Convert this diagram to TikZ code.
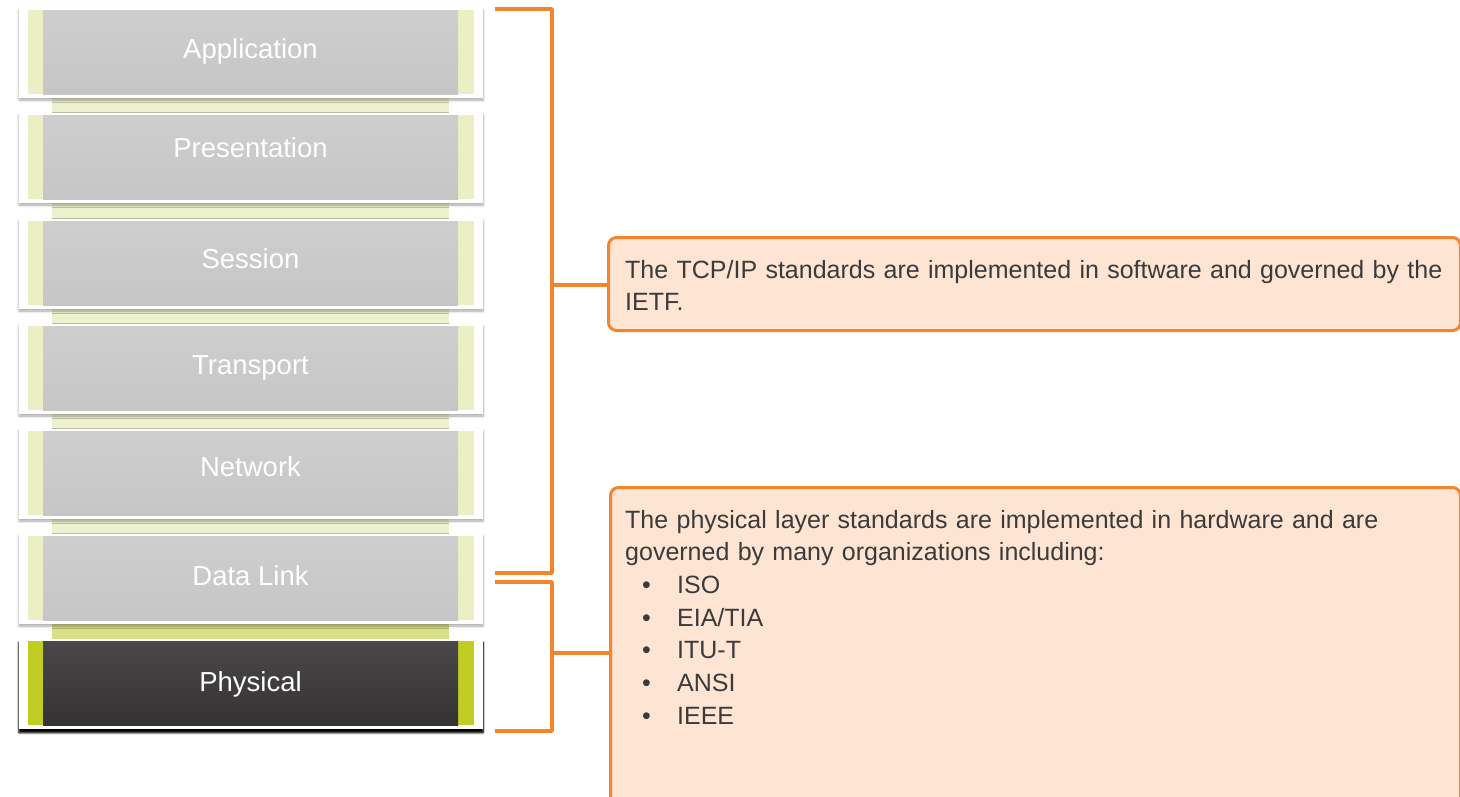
\documentclass[tikz,border=0pt]{standalone}
\usepackage{fontspec}
\setmainfont{Liberation Sans}
\usetikzlibrary{shadows.blur}
\definecolor{orng}{HTML}{F5852D}
\definecolor{peach}{HTML}{FDE4D3}
\definecolor{lgrayT}{HTML}{CECECE}
\definecolor{lgrayB}{HTML}{C6C6C6}
\definecolor{dgrayT}{HTML}{4A4748}
\definecolor{dgrayB}{HTML}{353233}
\definecolor{lstrip}{HTML}{ECEFC4}
\definecolor{pstrip}{HTML}{C2CD24}
\definecolor{connc}{HTML}{EEF1CD}
\definecolor{pconnc}{HTML}{D9DF86}
\definecolor{txt}{HTML}{3B3B3B}
\begin{document}
\begin{tikzpicture}[x=1pt,y=-1pt,
  framebox/.style={anchor=north west, fill=white, minimum width=464pt, minimum height=90pt, inner sep=0pt, outer sep=0pt,
    blur shadow={shadow xshift=0pt, shadow yshift=-2pt, shadow blur radius=2.5pt, shadow opacity=35}},
  pframebox/.style={framebox, blur shadow={shadow xshift=0pt, shadow yshift=-3.5pt, shadow blur radius=2pt, shadow opacity=90}},
  graylayer/.style={anchor=north west, minimum width=446pt, minimum height=84pt, inner sep=0pt, outer sep=0pt, fill=lstrip,
    path picture={\shade[top color=lgrayT, bottom color=lgrayB] ([xshift=15pt]path picture bounding box.north west) rectangle ([xshift=-16pt]path picture bounding box.south east);}},
  darklayer/.style={anchor=north west, minimum width=446pt, minimum height=84pt, inner sep=0pt, outer sep=0pt, fill=pstrip,
    path picture={\shade[top color=dgrayT, bottom color=dgrayB] ([xshift=15pt]path picture bounding box.north west) rectangle ([xshift=-16pt]path picture bounding box.south east);}},
  lab/.style={anchor=base, text=white, font=\fontsize{27.5}{30}\selectfont, inner sep=0pt},
  infobox/.style={anchor=north west, draw=orng, line width=3pt, fill=peach, rounded corners=8pt, inner sep=0pt},
  body/.style={anchor=base west, text=txt, text width=835pt, align=left, inner sep=0pt},
  brk/.style={draw=orng, line width=3.5pt, line join=round}
]
\useasboundingbox (0,0) rectangle (1460,796);
\clip (0,0) rectangle (1460,796);

% connector strips between layers
\foreach \ta/\tb in {10/115, 115/221, 221/326, 326/431, 431/536}
  \fill[connc] (52,\ta+84) rectangle (449,\tb);
\fill[pconnc] (52,620) rectangle (449,641);

% layers
\foreach \n/\t/\lab/\b in {app/10/Application/58, pres/115/Presentation/157, sess/221/Session/268,
    trans/326/Transport/374, net/431/Network/476, dl/536/Data Link/585} {
  \node[framebox] (\n-f) at (19,\t-2) {};
  \node[graylayer] (\n) at (28,\t) {};
  \node[lab] (\n-l) at (250.5,\b) {\lab};
}
\node[pframebox] (phy-f) at (19,639) {};
\node[darklayer] (phy) at (28,641) {};
\node[lab] (phy-l) at (250.5,691) {Physical};

% info boxes
\node[infobox, minimum width=852pt, minimum height=93pt] (tcp) at (607,236) {};
\node[body, font=\fontsize{25}{32.5}\selectfont] (tcp-t) at (625,278)
  {The TCP/IP standards are implemented in software and governed by the\\IETF.};

\node[infobox, minimum width=850pt, minimum height=330pt] (phys) at (609,486) {};
\node[body, font=\fontsize{25}{32.7}\selectfont] (phys-t) at (625,528)
  {The physical layer standards are implemented in hardware and are\\
   governed by many organizations including:\\
   \hspace*{17pt}\makebox[35pt][l]{\textbullet}ISO\\
   \hspace*{17pt}\makebox[35pt][l]{\textbullet}EIA/TIA\\
   \hspace*{17pt}\makebox[35pt][l]{\textbullet}ITU-T\\
   \hspace*{17pt}\makebox[35pt][l]{\textbullet}ANSI\\
   \hspace*{17pt}\makebox[35pt][l]{\textbullet}IEEE};

% brackets
\coordinate (ba1) at (495,9);
\coordinate (ba2) at (552,9);
\coordinate (ba3) at (552,573);
\coordinate (ba4) at (495,573);
\coordinate (bam) at (552,285);
\draw[brk] (ba1) -- (ba2) -- (ba3) -- (ba4);
\draw[brk] (bam) -- (bam -| tcp.west);

\coordinate (bb1) at (495,582);
\coordinate (bb2) at (552,582);
\coordinate (bb3) at (552,731);
\coordinate (bb4) at (495,731);
\coordinate (bbm) at (552,653);
\draw[brk] (bb1) -- (bb2) -- (bb3) -- (bb4);
\draw[brk] (bbm) -- (bbm -| phys.west);
\end{tikzpicture}
\end{document}
